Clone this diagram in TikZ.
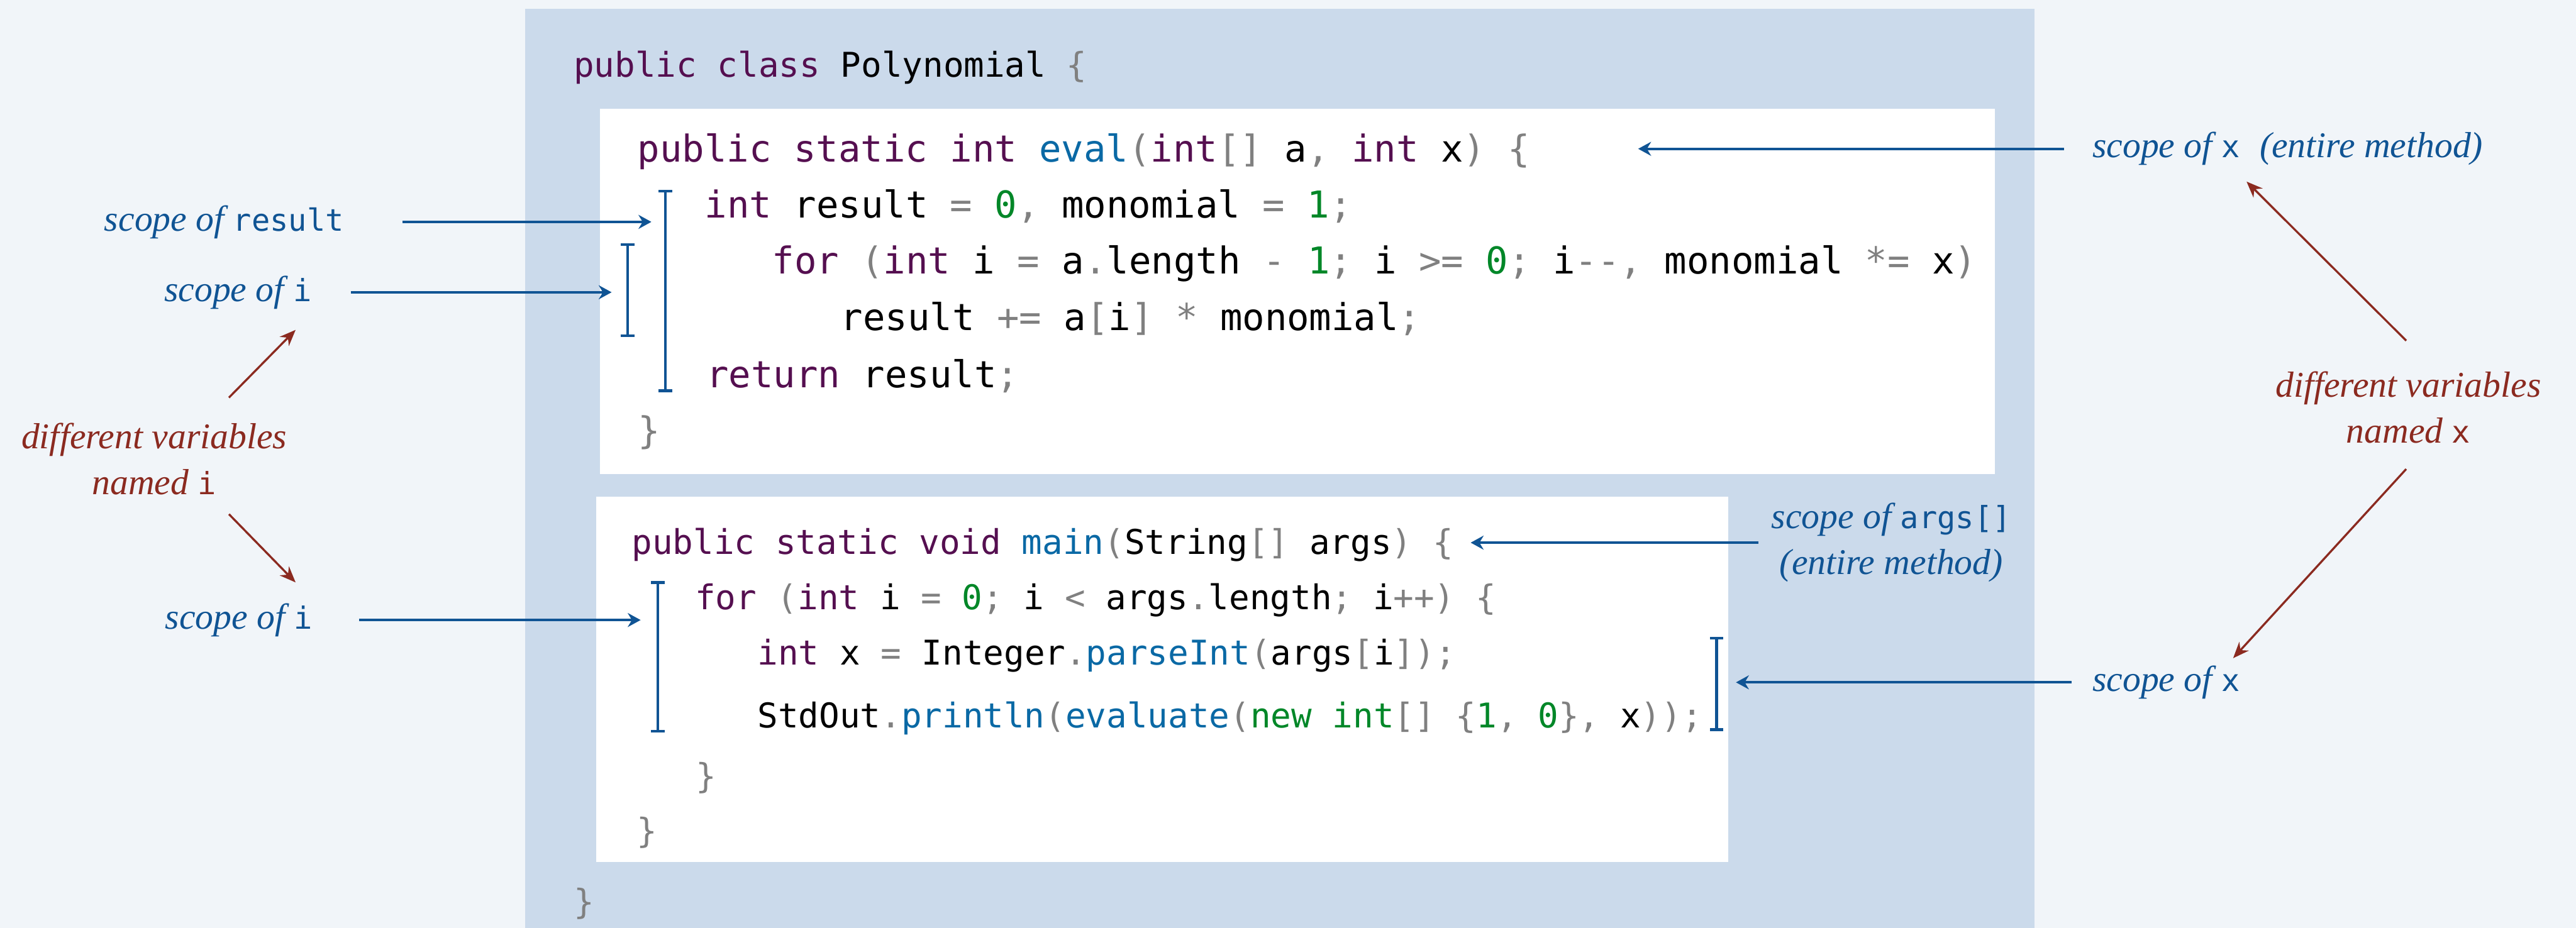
\documentclass[tikz,border=0pt]{standalone}
\usepackage{fontspec}
\setmainfont{Liberation Serif}
\setmonofont{DejaVu Sans Mono}
\usepackage{tikz}
\usetikzlibrary{arrows.meta,calc}
\usepackage{xcolor}

\definecolor{pagebg}{RGB}{241,245,249}
\definecolor{panelbg}{RGB}{203,218,235}
\definecolor{scopeblue}{RGB}{16,84,148}
\definecolor{diffred}{RGB}{139,42,32}
\definecolor{kwpurple}{RGB}{85,15,80}
\definecolor{mthblue}{RGB}{10,105,165}
\definecolor{numgreen}{RGB}{0,135,40}
\definecolor{opgray}{RGB}{128,128,128}

\newcommand{\kw}[1]{\textcolor{kwpurple}{#1}}
\newcommand{\mth}[1]{\textcolor{mthblue}{#1}}
\newcommand{\cnum}[1]{\textcolor{numgreen}{#1}}
\newcommand{\op}[1]{\textcolor{opgray}{#1}}
\newcommand{\vname}[1]{{\fontsize{8.1}{10}\ttfamily\upshape #1}}

\begin{document}
\begin{tikzpicture}[
  >={Stealth[length=1.2mm,width=1.3mm]},
  codeup/.style={anchor=base west, inner sep=0pt, font=\fontsize{9.81}{12}\ttfamily},
  codelo/.style={anchor=base west, inner sep=0pt, font=\fontsize{9.03}{12}\ttfamily},
  scopelabel/.style={text=scopeblue, font=\fontsize{9.6}{12.2}\itshape},
  difflabel/.style={text=diffred, align=center, font=\fontsize{9.6}{12.2}\itshape},
  scopebar/.style={draw=scopeblue, line width=0.75pt},
  scopearrow/.style={->, draw=scopeblue, line width=0.65pt},
  diffarrow/.style={-{Stealth[length=1.5mm,width=1.2mm]}, draw=diffred, line width=0.55pt},
]
  % Backgrounds
  \fill[pagebg] (0,0) rectangle (23.965,8.635);
  \fill[panelbg] (4.885,0) rectangle (18.925,8.555);
  \fill[white] (5.58,4.225) rectangle (18.56,7.625);
  \fill[white] (5.545,0.615) rectangle (16.08,4.015);
  \useasboundingbox (0,0) rectangle (23.965,8.635);

  % Class
  \node[codelo] (cls) at (5.33,7.92) {\kw{public class} Polynomial \op{\{}};
  \node[codelo] (clsend) at (5.33,0.13) {\op{\}}};

  % eval()
  \node[codeup] (sigeval) at (5.925,7.13) {\kw{public static int} \mth{eval}\op{(}\kw{int}\op{[]} a\op{,} \kw{int} x\op{)} \op{\{}};
  \node[codeup] (evalone) at (6.55,6.605) {\kw{int} result \op{=} \cnum{0}\op{,} monomial \op{=} \cnum{1}\op{;}};
  \node[codeup] (evaltwo) at (7.175,6.085) {\kw{for} \op{(}\kw{int} i \op{=} a\op{.}length \op{-} \cnum{1}\op{;} i \op{>=} \cnum{0}\op{;} i\op{--,} monomial \op{*=} x\op{)}};
  \node[codeup] (evalthree) at (7.815,5.56) {result \op{+=} a\op{[}i\op{]} \op{*} monomial\op{;}};
  \node[codeup] (evalfour) at (6.565,5.03) {\kw{return} result\op{;}};
  \node[codeup] (evalend) at (5.93,4.505) {\op{\}}};

  % main()
  \node[codelo] (sigmain) at (5.87,3.475) {\kw{public static void} \mth{main}\op{(}String\op{[]} args\op{)} \op{\{}};
  \node[codelo] (mainone) at (6.46,2.965) {\kw{for} \op{(}\kw{int} i \op{=} \cnum{0}\op{;} i \op{<} args\op{.}length\op{;} i\op{++)} \op{\{}};
  \node[codelo] (maintwo) at (7.04,2.445) {\kw{int} x \op{=} Integer\op{.}\mth{parseInt}\op{(}args\op{[}i\op{]);}};
  \node[codelo] (mainthree) at (7.04,1.865) {StdOut\op{.}\mth{println}\op{(}\mth{evaluate}\op{(}\cnum{new int}\op{[]} \op{\{}\cnum{1}\op{,} \cnum{0}\op{\},} x\op{));}};
  \node[codelo] (mainfour) at (6.465,1.30) {\op{\}}};
  \node[codelo] (mainend) at (5.915,0.79) {\op{\}}};

  % Scope bars
  \foreach \bname/\x/\yt/\yb in {bres/6.19/6.855/5.0, bione/5.84/6.36/5.51, bitwo/6.12/3.215/1.83, bxtwo/15.97/2.695/1.845} {
    \draw[scopebar] (\x-0.0625,\yt) -- (\x+0.0625,\yt) (\x,\yt) -- (\x,\yb) (\x-0.0625,\yb) -- (\x+0.0625,\yb);
    \coordinate (\bname) at (\x,{(\yt+\yb)/2});
  }

  % Scope labels
  \node[scopelabel, anchor=east] (lres) at (3.323,6.57) {scope of \vname{result}};
  \node[scopelabel, anchor=east] (lione) at (3.023,5.915) {scope of \vname{i}};
  \node[scopelabel, anchor=east] (litwo) at (3.033,2.865) {scope of \vname{i}};
  \node[scopelabel, anchor=west] (lxone) at (19.342,7.25) {scope of \vname{x}\hspace{0.55em}(entire method)};
  \node[scopelabel, anchor=west, align=center] (largs) at (16.357,3.585) {scope of \vname{args[]}\\(entire method)};
  \node[scopelabel, anchor=west] (lxtwo) at (19.342,2.285) {scope of \vname{x}};

  \coordinate (evaltip) at (15.24,7.25);
  \draw[scopearrow, shorten <=4.2mm, shorten >=1.3mm] (lres.east) -- (lres.east -| bres);
  \draw[scopearrow, shorten <=2.4mm, shorten >=1.5mm] (lione.east) -- (lione.east -| bione);
  \draw[scopearrow, shorten <=3.1mm, shorten >=1.6mm] (litwo.east) -- (litwo.east -| bitwo);
  \draw[scopearrow, shorten <=1.4mm] (lxone.west) -- (evaltip);
  \draw[scopearrow, shorten >=1.55mm] (largs.west) -- (largs.west -| sigmain.east);
  \draw[scopearrow, shorten <=0.7mm, shorten >=1.8mm] (lxtwo.west) -- (lxtwo.west -| bxtwo);

  % Different variables
  \node[difflabel] (diffi) at (1.435,4.365) {different variables\\named \vname{i}};
  \node[difflabel] (diffx) at (22.405,4.845) {different variables\\named \vname{x}};

  \coordinate (iupfrom) at (2.13,4.935);
  \coordinate (iupto) at (2.75,5.565);
  \coordinate (idownfrom) at (2.13,3.85);
  \coordinate (idownto) at (2.75,3.215);
  \coordinate (xupfrom) at (22.385,5.465);
  \coordinate (xupto) at (20.9,6.945);
  \coordinate (xdownfrom) at (22.385,4.27);
  \coordinate (xdownto) at (20.775,2.51);
  \draw[diffarrow] (iupfrom) -- (iupto);
  \draw[diffarrow] (idownfrom) -- (idownto);
  \draw[diffarrow] (xupfrom) -- (xupto);
  \draw[diffarrow] (xdownfrom) -- (xdownto);
\end{tikzpicture}
\end{document}
